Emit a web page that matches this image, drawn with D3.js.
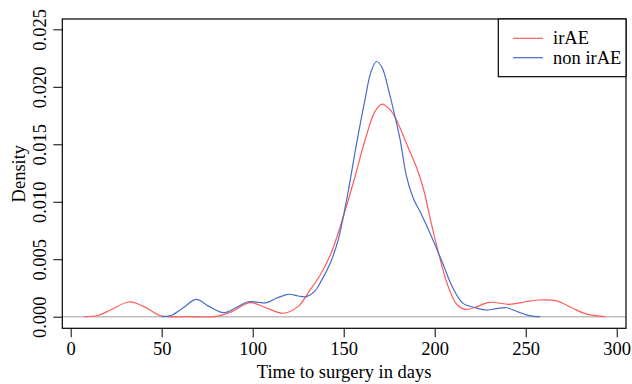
<!DOCTYPE html>
<html>
<head>
<meta charset="utf-8">
<script src="https://cdn.jsdelivr.net/npm/d3@7"></script>
<style>
  body{margin:0;background:#fff}
  text{font-family:"Liberation Serif","DejaVu Serif",serif}
</style>
</head>
<body>
<script>
// density curves
const irAETime    = [7.5,15,22,32,40,49,55,65,80,88,98.5,107,116.6,125,131,137,143,148,155,162,167,171,175,178.5,186,190,194,198,202,207,212,216.6,222,230,241,250,258,267,275,283,293.5]
const irAEDensity = [0,0.0001,0.0006,0.00128,0.0009,0.0001,0,0,0.00002,0.0004,0.00122,0.0008,0.0003,0.0009,0.0022,0.0036,0.0055,0.0078,0.0115,0.0155,0.0178,0.0185,0.0181,0.01726,0.0145,0.013,0.011,0.0082,0.0056,0.0028,0.0011,0.00064,0.0008,0.00125,0.00108,0.0013,0.00145,0.00137,0.0008,0.00025,0]
const nonTime     = [50,55,62,69,76,84,91,97.6,103,107.6,113,119.5,125,129.6,134,138,143,147,152,157,161.6,165,168,171,175,178.5,181,184.5,188,193,199,204,210,215.6,222,228.5,234,239.5,246,252,258]
const nonDensity  = [0,0.0001,0.0008,0.00151,0.0009,0.00035,0.0008,0.0013,0.00125,0.00122,0.0016,0.00195,0.0018,0.00174,0.0022,0.0032,0.0048,0.0067,0.0105,0.015,0.0188,0.0213,0.0222,0.0217,0.0195,0.0172,0.0154,0.0122,0.0104,0.0088,0.0067,0.0048,0.0025,0.00116,0.0008,0.00058,0.0007,0.00078,0.0004,0.0001,0]
const xTicks = [0,50,100,150,200,250,300]
const yTicks = [0,0.005,0.010,0.015,0.020,0.025]
const seriesNames = ["irAE","non irAE"]
const seriesColors = ["#ff5a5a","#4a6bc8"]

const w=632, h=384
const fs=18.5
const box={left:62.3,right:626,top:19,bottom:328.3}

const svg=d3.select("body").append("svg")
    .attr("width",w).attr("height",h)

const xScale=d3.scaleLinear().domain([-4.6,305.1]).range([box.left,box.right])
const yScale=d3.scaleLinear().domain([-0.00101,0.0259]).range([box.bottom,box.top])

// zero line
svg.append("line")
   .attr("x1",box.left).attr("x2",box.right)
   .attr("y1",yScale(0)).attr("y2",yScale(0))
   .attr("stroke","#bebebe").attr("stroke-width",1.5)

const line=d3.line()
   .x(d=>xScale(d[0])).y(d=>yScale(Math.max(0,d[1])))
   .curve(d3.curveCatmullRom.alpha(0.5))

const series=[
  d3.zip(irAETime,irAEDensity),
  d3.zip(nonTime,nonDensity)
]
svg.selectAll("path.curve")
   .data(series)
   .enter()
   .append("path")
   .attr("class","curve")
   .attr("d",line)
   .attr("fill","none")
   .attr("stroke",(d,i)=>seriesColors[i])
   .attr("stroke-width",1.2)

// axes
const xAxis=d3.axisBottom(xScale).tickValues(xTicks).tickSize(9).tickPadding(5).tickFormat(d3.format("d"))
const gx=svg.append("g")
   .attr("transform","translate(0,"+box.bottom+")")
   .call(xAxis)
gx.select(".domain").remove()
gx.selectAll("text").attr("font-size",fs).attr("font-family","Liberation Serif").attr("fill","#000")
gx.selectAll("line").attr("stroke","#000")

const yAxis=d3.axisLeft(yScale).tickValues(yTicks).tickSize(9).tickFormat(d3.format(".3f"))
const gy=svg.append("g")
   .attr("transform","translate("+box.left+",0)")
   .call(yAxis)
gy.select(".domain").remove()
gy.selectAll("line").attr("stroke","#000")
gy.selectAll("text")
   .attr("font-size",fs).attr("font-family","Liberation Serif").attr("fill","#000")
   .attr("text-anchor","middle")
   .attr("x",0).attr("dy",0)
   .attr("dominant-baseline","central")
   .attr("transform","translate(-22,0) rotate(-90)")

// frame
svg.append("rect")
   .attr("x",box.left).attr("y",box.top)
   .attr("width",box.right-box.left).attr("height",box.bottom-box.top)
   .attr("fill","none").attr("stroke","#000").attr("stroke-width",1.2)

// titles
svg.append("text")
   .attr("x",(box.left+box.right)/2).attr("y",378)
   .attr("text-anchor","middle").attr("font-size",fs)
   .text("Time to surgery in days")
svg.append("text")
   .attr("transform","translate(19,"+((box.top+box.bottom)/2)+") rotate(-90)")
   .attr("text-anchor","middle").attr("dominant-baseline","central").attr("font-size",fs)
   .text("Density")

// legend
const legend=svg.append("g")
legend.append("rect")
   .attr("x",498.3).attr("y",box.top)
   .attr("width",box.right-498.3).attr("height",76.7-box.top)
   .attr("fill","#fff").attr("stroke","#000").attr("stroke-width",1.2)
const rows=legend.selectAll("g.row").data(seriesNames).enter().append("g")
   .attr("class","row")
   .attr("transform",(d,i)=>"translate(0,"+(38.3+i*19.4)+")")
rows.append("line").attr("x1",513).attr("x2",543)
   .attr("stroke",(d,i)=>seriesColors[i]).attr("stroke-width",1.2)
rows.append("text").attr("x",553).attr("dominant-baseline","central")
   .attr("font-size",fs).text(d=>d)
</script>
</body>
</html>
